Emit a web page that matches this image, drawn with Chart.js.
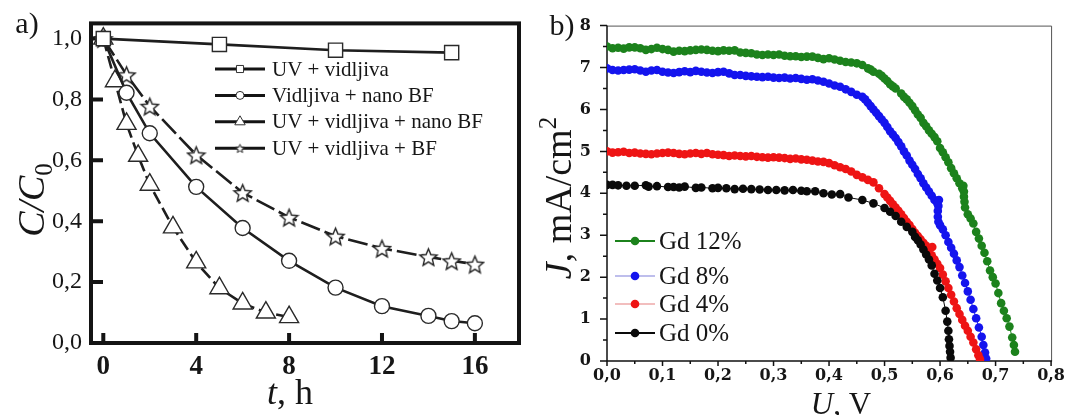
<!DOCTYPE html>
<html>
<head>
<meta charset="utf-8">
<script src="https://cdn.jsdelivr.net/npm/chart.js@4.4.1/dist/chart.umd.min.js"></script>
<style>
html, body { margin: 0; padding: 0; background: #fff; }
#wrap { position: relative; width: 1070px; height: 415px; overflow: hidden; }
.panel { position: absolute; top: 0; width: 535px; height: 415px; }
#pa { left: 0; }
#pb { left: 535px; }
</style>
</head>
<body>
<div id="wrap">
  <div class="panel" id="pa"><canvas id="chartA"></canvas></div>
  <div class="panel" id="pb"><canvas id="chartB"></canvas></div>
</div>
<script>
// ---- panel a: C/C0 vs t ----
const seriesA = ['UV + vidljiva', 'Vidljiva + nano BF', 'UV + vidljiva + nano BF', 'UV + vidljiva + BF'];
const tSq = [0, 5, 10, 15];
const cSq = [1.0, 0.981, 0.962, 0.954];
const tCirc = [0, 1, 2, 4, 6, 8, 10, 12, 14, 15, 16];
const cCirc = [1.0, 0.822, 0.689, 0.513, 0.378, 0.27, 0.182, 0.121, 0.089, 0.072, 0.065];
const tTri = [0, 0.5, 1, 1.5, 2, 3, 4, 5, 6, 7, 8];
const cTri = [1.0, 0.86, 0.72, 0.615, 0.52, 0.38, 0.265, 0.18, 0.13, 0.10, 0.085];
const tStar = [0, 1, 2, 4, 6, 8, 10, 12, 14, 15, 16];
const cStar = [1.0, 0.881, 0.778, 0.618, 0.494, 0.413, 0.351, 0.311, 0.283, 0.27, 0.259];
const xTicksA = [0, 4, 8, 12, 16];
const yTicksA = [0, 0.2, 0.4, 0.6, 0.8, 1.0];

// ---- panel b: J vs U ----
const seriesB = ['Gd 12%', 'Gd 8%', 'Gd 4%', 'Gd 0%'];
const uGd12 = [0.00,0.01,0.02,0.03,0.04,0.05,0.06,0.07,0.08,0.09,0.10,0.11,0.12,0.13,0.14,0.15,0.16,0.17,0.18,0.19,0.20,0.21,0.22,0.23,0.24,0.25,0.26,0.27,0.28,0.29,0.30,0.31,0.32,0.33,0.34,0.35,0.36,0.37,0.38,0.39,0.40,
  0.41,0.42,0.43,0.44,0.45,0.46,0.47,0.475,0.48,0.49,0.495,0.50,0.505,0.51,0.515,0.52,0.53,0.535,0.54,0.545,0.55,0.555,0.56,0.565,0.57,0.575,0.58,0.585,0.59,0.595,0.60,0.605,0.61,0.615,0.62,0.625,0.63,0.635,0.64,0.642,
  0.643,0.643,0.644,0.645,0.65,0.655,0.66,0.665,0.67,0.675,0.68,0.685,0.69,0.695,0.70,0.705,0.71,0.715,0.72,0.725,0.73,0.733,0.735];
const jGd12 = [7.50,7.46,7.47,7.45,7.48,7.48,7.46,7.42,7.44,7.47,7.44,7.42,7.38,7.40,7.39,7.41,7.42,7.43,7.42,7.40,7.39,7.41,7.40,7.41,7.36,7.35,7.34,7.31,7.30,7.31,7.30,7.31,7.28,7.27,7.27,7.25,7.26,7.26,7.23,7.20,7.22,
  7.19,7.16,7.13,7.12,7.10,7.06,6.98,6.95,6.90,6.85,6.80,6.74,6.68,6.60,6.55,6.50,6.38,6.30,6.24,6.16,6.08,5.98,5.88,5.80,5.68,5.60,5.50,5.42,5.34,5.24,5.08,4.98,4.86,4.74,4.60,4.48,4.36,4.24,4.12,4.18,
  4.04,3.92,3.80,3.66,3.50,3.40,3.28,3.08,2.92,2.75,2.58,2.38,2.16,2.00,1.85,1.62,1.38,1.20,1.02,0.82,0.56,0.38,0.22];
const uGd8 = [0.00,0.01,0.02,0.03,0.04,0.05,0.06,0.07,0.08,0.09,0.10,0.11,0.12,0.13,0.14,0.15,0.16,0.17,0.18,0.19,0.20,0.21,0.22,0.23,0.24,0.25,0.26,0.27,0.28,0.29,0.30,0.31,0.32,0.33,0.34,0.35,0.36,0.37,0.38,0.39,0.40,
  0.41,0.42,0.43,0.44,0.45,0.46,0.465,0.47,0.475,0.48,0.485,0.49,0.495,0.50,0.505,0.51,0.515,0.52,0.525,0.53,0.535,0.54,0.545,0.55,0.555,0.56,0.565,0.57,0.575,0.58,0.585,0.59,0.595,0.598,
  0.597,0.596,0.596,0.597,0.60,0.605,0.61,0.615,0.62,0.625,0.63,0.635,0.64,0.645,0.65,0.655,0.66,0.665,0.67,0.675,0.678,0.681,0.683];
const jGd8 = [6.98,6.94,6.93,6.94,6.95,6.96,6.93,6.90,6.93,6.94,6.90,6.88,6.87,6.89,6.91,6.89,6.92,6.90,6.88,6.87,6.89,6.90,6.86,6.82,6.82,6.80,6.79,6.78,6.77,6.78,6.76,6.75,6.76,6.74,6.75,6.73,6.71,6.72,6.69,6.66,6.62,
  6.57,6.54,6.48,6.42,6.35,6.30,6.24,6.16,6.08,6.00,5.92,5.84,5.76,5.68,5.58,5.48,5.40,5.32,5.22,5.12,5.00,4.90,4.78,4.68,4.58,4.46,4.36,4.24,4.14,4.04,3.94,3.84,3.76,3.84,
  3.70,3.58,3.44,3.32,3.24,3.14,3.00,2.84,2.70,2.56,2.40,2.24,2.04,1.86,1.66,1.46,1.24,1.02,0.80,0.58,0.38,0.20,0.06];
const uGd4 = [0.00,0.01,0.02,0.03,0.04,0.05,0.06,0.07,0.08,0.09,0.10,0.11,0.12,0.13,0.14,0.15,0.16,0.17,0.18,0.19,0.20,0.21,0.22,0.23,0.24,0.25,0.26,0.27,0.28,0.29,0.30,0.31,0.32,0.33,0.34,0.35,0.36,0.37,0.38,0.39,0.40,
  0.41,0.42,0.43,0.44,0.45,0.46,0.47,0.48,0.49,0.50,0.505,0.51,0.515,0.52,0.525,0.53,0.535,0.54,0.545,0.55,0.555,0.56,0.565,0.57,0.575,0.58,0.586,
  0.585,0.59,0.595,0.60,0.605,0.61,0.615,0.62,0.625,0.63,0.635,0.64,0.645,0.65,0.655,0.66,0.665,0.669,0.672];
const jGd4 = [5.00,4.97,4.98,4.99,4.96,4.97,4.95,4.94,4.93,4.95,4.96,4.97,4.96,4.94,4.93,4.95,4.96,4.94,4.96,4.93,4.92,4.91,4.89,4.90,4.89,4.88,4.89,4.87,4.86,4.85,4.86,4.85,4.84,4.82,4.83,4.81,4.80,4.78,4.76,4.75,4.72,
  4.67,4.62,4.58,4.52,4.44,4.38,4.32,4.26,4.12,3.98,3.90,3.82,3.74,3.66,3.58,3.50,3.41,3.32,3.24,3.15,3.06,2.98,2.90,2.82,2.75,2.68,2.72,
  2.52,2.42,2.32,2.22,2.06,1.90,1.74,1.58,1.42,1.26,1.12,0.98,0.84,0.72,0.58,0.44,0.28,0.14,0.04];
const uGd0 = [0.00,0.01,0.02,0.035,0.05,0.07,0.075,0.09,0.11,0.12,0.13,0.14,0.16,0.17,0.19,0.20,0.215,0.23,0.245,0.26,0.275,0.29,0.305,0.32,0.335,0.35,0.36,0.375,0.39,0.405,0.42,0.435,
  0.46,0.48,0.50,0.51,0.52,0.53,0.54,0.55,0.555,0.56,0.565,0.57,0.575,0.58,0.585,0.59,0.595,0.60,0.605,0.61,0.613,0.615,0.616,0.617,0.618,0.619];
const jGd0 = [4.20,4.20,4.19,4.18,4.18,4.19,4.16,4.17,4.15,4.15,4.14,4.16,4.13,4.14,4.12,4.13,4.12,4.10,4.11,4.10,4.09,4.08,4.08,4.07,4.08,4.06,4.05,4.05,4.00,3.97,3.98,3.90,
  3.84,3.76,3.65,3.56,3.46,3.32,3.20,3.08,2.96,2.88,2.78,2.66,2.54,2.42,2.28,2.08,1.92,1.74,1.52,1.20,0.94,0.72,0.52,0.36,0.22,0.08];
const xTicksB = [0, 0.1, 0.2, 0.3, 0.4, 0.5, 0.6, 0.7, 0.8];
const xMinorB = [0.05, 0.15, 0.25, 0.35, 0.45, 0.55, 0.65, 0.75];
const yTicksB = [0, 1, 2, 3, 4, 5, 6, 7, 8];
const yMinorB = [0.5, 1.5, 2.5, 3.5, 4.5, 5.5, 6.5, 7.5];

const colorsB = ['#1c821c', '#1414ee', '#ee1414', '#0a0a0a'];
const legendLineB = ['#1c821c', '#a8a8e6', '#eea8a8', '#0a0a0a'];

const SERIF = '"Liberation Serif", "Times New Roman", serif';
const pts = (xs, ys) => xs.map((v, i) => ({ x: v, y: ys[i] }));
const comma = (v, d) => v.toFixed(d).replace('.', ',');

function starImage(size, lw) {
  const c = document.createElement('canvas');
  c.width = c.height = size;
  const g = c.getContext('2d');
  const cx = size / 2, cy = size / 2 + size * 0.05, R = size / 2 - lw, r = R * 0.45;
  g.beginPath();
  for (let i = 0; i < 10; i++) {
    const ang = -Math.PI / 2 + i * Math.PI / 5;
    const rr = i % 2 ? r : R;
    g.lineTo(cx + rr * Math.cos(ang), cy + rr * Math.sin(ang));
  }
  g.closePath();
  g.fillStyle = '#fff';
  g.fill();
  g.lineWidth = lw;
  g.strokeStyle = '#222';
  g.stroke();
  return c;
}
const bigStar = starImage(21, 1.4);
const smallStar = starImage(11, 1);

// text made of pieces with different fonts
function drawRich(ctx, parts, x, y, rot) {
  ctx.save();
  ctx.translate(x, y);
  ctx.rotate(rot || 0);
  ctx.fillStyle = '#161616';
  ctx.textBaseline = 'alphabetic';
  let w = 0;
  parts.forEach(p => { ctx.font = p.font; w += ctx.measureText(p.t).width; });
  let cx = -w / 2;
  parts.forEach(p => {
    ctx.font = p.font;
    ctx.fillText(p.t, cx, p.dy || 0);
    cx += ctx.measureText(p.t).width;
  });
  ctx.restore();
}

const panelA = {
  id: 'panelA',
  beforeDatasetsDraw(chart) {
    const { ctx, chartArea: a, scales: { x, y } } = chart;
    ctx.save();
    ctx.strokeStyle = '#141414';
    ctx.lineWidth = 4;
    ctx.beginPath();
    yTicksA.forEach(v => {
      const py = y.getPixelForValue(v);
      ctx.moveTo(a.left, py); ctx.lineTo(a.left + 12, py);
    });
    xTicksA.forEach(v => {
      const px = x.getPixelForValue(v);
      ctx.moveTo(px, a.bottom); ctx.lineTo(px, a.bottom - 10);
    });
    ctx.stroke();
    ctx.strokeRect(a.left, a.top, a.right - a.left, a.bottom - a.top);
    ctx.restore();
  },
  afterDraw(chart) {
    const ctx = chart.ctx;
    // legend
    const styles = ['rect', 'circle', 'triangle', smallStar];
    const radii = [5, 4, 6, 0];
    ctx.save();
    seriesA.forEach((name, i) => {
      const yy = 69 + i * 26.4;
      ctx.strokeStyle = '#141414';
      ctx.lineWidth = 3;
      ctx.beginPath();
      ctx.moveTo(215, yy); ctx.lineTo(265, yy);
      ctx.stroke();
      ctx.fillStyle = '#fff';
      ctx.strokeStyle = '#333';
      ctx.lineWidth = 1;
      Chart.helpers.drawPoint(ctx, { pointStyle: styles[i], radius: radii[i], borderWidth: 1, rotation: 0 }, 240, yy);
      ctx.fillStyle = '#161616';
      ctx.font = '21px ' + SERIF;
      ctx.textBaseline = 'middle';
      ctx.textAlign = 'left';
      ctx.fillText(name, 272, yy + 1);
    });
    ctx.restore();
    // titles
    drawRich(ctx, [{ t: 'a)', font: '30px ' + SERIF }], 27, 33);
    drawRich(ctx, [{ t: 't', font: 'italic 36px ' + SERIF }, { t: ', h', font: '36px ' + SERIF }], 290, 404);
    drawRich(ctx, [{ t: 'C/C', font: 'italic 38px ' + SERIF }, { t: '0', font: '25px ' + SERIF, dy: 8 }], 44, 200, -Math.PI / 2);
  }
};

const panelB = {
  id: 'panelB',
  beforeDatasetsDraw(chart) {
    const { ctx, chartArea: a, scales: { x, y } } = chart;
    ctx.save();
    ctx.strokeStyle = '#555';
    ctx.lineWidth = 1;
    ctx.beginPath();
    ctx.moveTo(a.left, a.top + 0.5); ctx.lineTo(a.right + 0.5, a.top + 0.5); ctx.lineTo(a.right + 0.5, a.bottom);
    ctx.stroke();
    ctx.strokeStyle = '#111';
    ctx.lineWidth = 1.5;
    ctx.beginPath();
    ctx.moveTo(a.left, a.top); ctx.lineTo(a.left, a.bottom); ctx.lineTo(a.right + 1, a.bottom);
    yTicksB.forEach(v => { const py = y.getPixelForValue(v); ctx.moveTo(a.left - 7, py); ctx.lineTo(a.left, py); });
    yMinorB.forEach(v => { const py = y.getPixelForValue(v); ctx.moveTo(a.left - 4, py); ctx.lineTo(a.left, py); });
    xTicksB.forEach(v => { const px = x.getPixelForValue(v); ctx.moveTo(px, a.bottom); ctx.lineTo(px, a.bottom + 5); });
    xMinorB.forEach(v => { const px = x.getPixelForValue(v); ctx.moveTo(px, a.bottom); ctx.lineTo(px, a.bottom + 3); });
    ctx.stroke();
    ctx.restore();
  },
  afterDraw(chart) {
    const ctx = chart.ctx;
    const ys = [241, 276, 304, 333];
    ctx.save();
    seriesB.forEach((name, i) => {
      const yy = ys[i];
      ctx.strokeStyle = legendLineB[i];
      ctx.lineWidth = (i === 0 || i === 3) ? 2.2 : 1.4;
      ctx.beginPath();
      ctx.moveTo(80, yy); ctx.lineTo(120, yy);
      ctx.stroke();
      ctx.fillStyle = colorsB[i];
      ctx.beginPath();
      ctx.arc(100, yy, 4.3, 0, Math.PI * 2);
      ctx.fill();
      ctx.fillStyle = '#161616';
      ctx.font = '25px ' + SERIF;
      ctx.textBaseline = 'middle';
      ctx.textAlign = 'left';
      ctx.fillText(name, 124, yy + 1);
    });
    ctx.restore();
    drawRich(ctx, [{ t: 'b)', font: '30px ' + SERIF }], 27, 35);
    drawRich(ctx, [{ t: 'U', font: 'italic 31px ' + SERIF }, { t: ', V', font: '31px ' + SERIF }], 306, 414);
    drawRich(ctx, [
      { t: 'J', font: 'italic 38px ' + SERIF },
      { t: ', mA/cm', font: '38px ' + SERIF },
      { t: '2', font: '25px ' + SERIF, dy: -15 }
    ], 36, 198, -Math.PI / 2);
  }
};

const markerA = { showLine: true, borderColor: '#1e1e1e', borderWidth: 2.6, pointBackgroundColor: '#fff', pointBorderColor: '#2a2a2a', pointBorderWidth: 1.4, pointHoverRadius: 0 };

new Chart(document.getElementById('chartA'), {
  type: 'scatter',
  data: {
    datasets: [
      { ...markerA, label: seriesA[0], data: pts(tSq, cSq), pointStyle: 'rect', pointRadius: 10 },
      { ...markerA, label: seriesA[1], data: pts(tCirc, cCirc), pointStyle: 'circle', pointRadius: 7.5 },
      { ...markerA, label: seriesA[2], data: pts(tTri, cTri), pointStyle: 'triangle', pointRadius: 11, borderDash: [13, 5] },
      { ...markerA, label: seriesA[3], data: pts(tStar, cStar), pointStyle: bigStar, pointRadius: 10, borderDash: [20, 5] }
    ]
  },
  options: {
    responsive: true,
    maintainAspectRatio: false,
    animation: false,
    layout: { padding: { top: 20, right: 16, left: 0, bottom: 0 } },
    plugins: { legend: { display: false }, tooltip: { enabled: false } },
    scales: {
      x: {
        type: 'linear', min: -0.53, max: 17.9,
        afterFit: s => { s.height = 72; },
        afterBuildTicks: s => { s.ticks = xTicksA.map(v => ({ value: v })); },
        grid: { display: false, drawTicks: false },
        border: { display: false },
        ticks: { padding: 8, color: '#161616', font: { family: SERIF, size: 27, weight: 'bold' }, callback: v => String(v) }
      },
      y: {
        type: 'linear', min: 0, max: 1.05,
        afterFit: s => { s.width = 91; },
        afterBuildTicks: s => { s.ticks = yTicksA.map(v => ({ value: v })); },
        grid: { display: false, drawTicks: false },
        border: { display: false },
        ticks: { padding: 9, color: '#161616', font: { family: SERIF, size: 24 }, callback: v => comma(v, 1) }
      }
    }
  },
  plugins: [panelA]
});

const dotsB = (i, xs, ys) => ({
  label: seriesB[i], data: pts(xs, ys), showLine: true,
  borderColor: colorsB[i], borderWidth: 1, pointRadius: 4.3, pointHoverRadius: 0,
  pointBackgroundColor: colorsB[i], pointBorderWidth: 0
});

new Chart(document.getElementById('chartB'), {
  type: 'scatter',
  data: {
    datasets: [dotsB(3, uGd0, jGd0), dotsB(2, uGd4, jGd4), dotsB(1, uGd8, jGd8), dotsB(0, uGd12, jGd12)]
  },
  options: {
    responsive: true,
    maintainAspectRatio: false,
    animation: false,
    layout: { padding: { top: 13, right: 13, left: 0, bottom: 0 } },
    plugins: { legend: { display: false }, tooltip: { enabled: false } },
    scales: {
      x: {
        type: 'linear', min: 0, max: 0.8,
        afterFit: s => { s.height = 54; },
        afterBuildTicks: s => { s.ticks = xTicksB.map(v => ({ value: v })); },
        grid: { display: false, drawTicks: false },
        border: { display: false },
        ticks: { padding: 5, color: '#161616', font: { family: '"DejaVu Serif", serif', size: 16, weight: 'bold' }, callback: v => comma(v, 1) }
      },
      y: {
        type: 'linear', min: 0, max: 8,
        afterFit: s => { s.width = 72; },
        afterBuildTicks: s => { s.ticks = yTicksB.map(v => ({ value: v })); },
        grid: { display: false, drawTicks: false },
        border: { display: false },
        ticks: { padding: 16, color: '#161616', font: { family: '"DejaVu Serif", serif', size: 16, weight: 'bold' }, callback: v => String(v) }
      }
    }
  },
  plugins: [panelB]
});
</script>
</body>
</html>
